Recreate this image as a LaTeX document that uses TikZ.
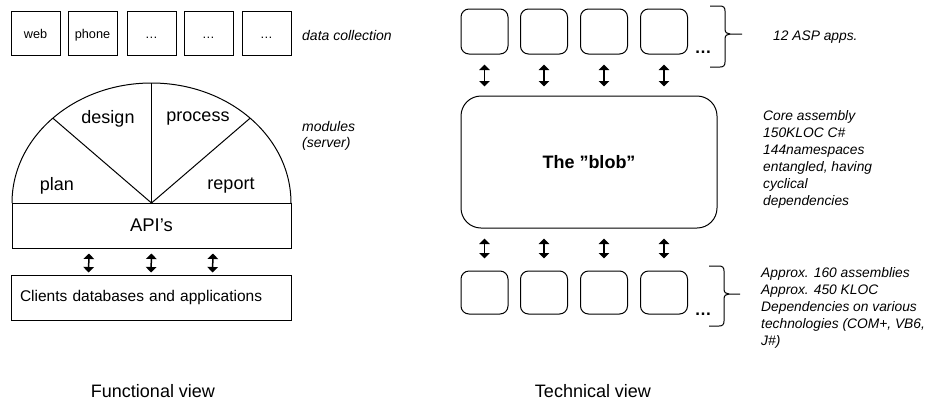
\documentclass[tikz,border=0pt]{standalone}
\usepackage{fontspec}
\setmainfont{Liberation Sans}
\usetikzlibrary{arrows.meta,calc}

\begin{document}
\begin{tikzpicture}[x=1pt,y=-1pt,
  outline/.style={draw, line width=1pt, inner sep=0pt},
  srcbox/.style={outline, minimum width=49pt, minimum height=44pt,
    font=\fontsize{12.7}{15}\selectfont, text height=11pt, text depth=0pt},
  appbox/.style={outline, rounded corners=8pt, minimum width=47pt, minimum height=45pt},
  libbox/.style={outline, rounded corners=8pt, minimum width=47pt, minimum height=43pt},
  modlabel/.style={font=\fontsize{18}{21}\selectfont},
  note/.style={font=\fontsize{13.8}{17}\selectfont\itshape, align=left, inner sep=0pt},
  caption/.style={font=\fontsize{18}{21}\selectfont, anchor=base, inner sep=0pt, text depth=0pt},
  more/.style={font=\fontsize{17}{20}\selectfont\bfseries, inner sep=0pt, anchor=base},
  link/.style={line width=1.5pt, {Triangle[length=5.5pt,width=10.5pt]}-{Triangle[length=5.5pt,width=10.5pt]}},
  bracket/.style={line width=1pt}
]
\useasboundingbox (0,0) rectangle (932,400);

% ---------------- Functional view ----------------
% data collection channels
\node[srcbox] (web)   at (35.5,33)  {web};
\node[srcbox] (phone) at (92.5,33)  {phone};
\node[srcbox] (src3)  at (151.5,33) {…};
\node[srcbox] (src4)  at (208.5,33) {…};
\node[srcbox] (src5)  at (266.5,33) {…};
\node[font=\fontsize{14}{17}\selectfont\itshape, anchor=west, inner sep=0pt] (collect) at (302,35) {data collection};

% server modules as a half ellipse split into four sectors
\coordinate (hub) at (151.5,203);
\draw[line width=1pt] (12,203) arc[start angle=180, end angle=0, x radius=139.5pt, y radius=120pt];
\draw[line width=1pt] (hub) -- ++(90:120pt);
\draw[line width=1pt] (hub) -- ++(45:139.5pt and 120pt);
\draw[line width=1pt] (hub) -- ++(135:139.5pt and 120pt);
\node[modlabel] (design)  at (108,119) {design};
\node[modlabel] (process) at (198,119) {process};
\node[modlabel] (plan)    at (57,186)  {plan};
\node[modlabel] (report)  at (231,186) {report};
\node[font=\fontsize{14}{16}\selectfont\itshape, align=left, inner sep=0pt, anchor=north west] (modules) at (302,121.5) {modules\\(server)};

% API layer and client systems
\node[outline, minimum width=279pt, minimum height=45pt, font=\fontsize{18.4}{21}\selectfont] (api) at (151.5,225.5) {API’s};
\node[outline, minimum width=280pt, minimum height=45pt, text width=262pt, align=left, inner xsep=9pt,
      font=\fontsize{15.5}{18}\selectfont] (clients) at (151,297.5) {Clients databases and applications};
\foreach \dx in {-62.5,0,61.5}
  \draw[link] ([xshift=\dx pt, yshift=-5pt]api.south) -- ([xshift=\dx pt, yshift=2pt]clients.north);

\node[caption] (fview) at (153,397) {Functional view};

% ---------------- Technical view ----------------
% ASP applications
\node[appbox] (t1) at (484.5,31.5) {};
\node[appbox] (t2) at (544,31.5)   {};
\node[appbox] (t3) at (604,31.5)   {};
\node[appbox] (t4) at (664,31.5)   {};
\node[more] (tmore) at (703,53) {…};

% core assembly
\node[outline, rounded corners=20pt, minimum width=256pt, minimum height=132pt,
      font=\fontsize{18}{21}\selectfont\bfseries] (blob) at (589,162) {The ”blob”};

% referenced assemblies
\node[libbox] (b1) at (484.5,292.5) {};
\node[libbox] (b2) at (544,292.5)   {};
\node[libbox] (b3) at (604,292.5)   {};
\node[libbox] (b4) at (664,292.5)   {};
\node[more] (bmore) at (703,315) {…};

\foreach \k in {1,2,3,4} {
  \draw[link, shorten <=10pt, shorten >=9pt] (t\k.south) -- (t\k.south |- blob.north);
  \draw[link, shorten <=10pt, shorten >=12pt] (b\k.north |- blob.south) -- (b\k.north);
}

% braces
\draw[bracket] (710,6) -- (720,6) .. controls (723.5,6) and (725,7.5) .. (725,11) -- (725,29)
  .. controls (725,32.5) and (727,34) .. (730,34) -- (742,34);
\draw[bracket] (730,34) .. controls (727,34) and (725,35.5) .. (725,39) -- (725,62)
  .. controls (725,65.5) and (723.5,67) .. (720,67) -- (710,67);

\draw[bracket] (709,266) -- (719,266) .. controls (722.5,266) and (724,267.5) .. (724,271) -- (724,289)
  .. controls (724,292.5) and (726,294) .. (729,294) -- (740,294);
\draw[bracket] (729,294) .. controls (726,294) and (724,295.5) .. (724,299) -- (724,321)
  .. controls (724,324.5) and (722.5,326) .. (719,326) -- (709,326);

% annotations
\node[note, anchor=west] (asp) at (773,37) {12 ASP apps.};
\node[note, anchor=north west] (core) at (763,110.5)
  {Core assembly\\150KLOC C\#\\144namespaces\\entangled, having\\cyclical\\dependencies};
\node[note, anchor=north west] (deps) at (761,267.5)
  {Approx. 160 assemblies\\Approx. 450 KLOC\\Dependencies on various\\technologies (COM+, VB6,\\J\#)};

\node[caption] (tview) at (593,397) {Technical view};
\end{tikzpicture}
\end{document}
